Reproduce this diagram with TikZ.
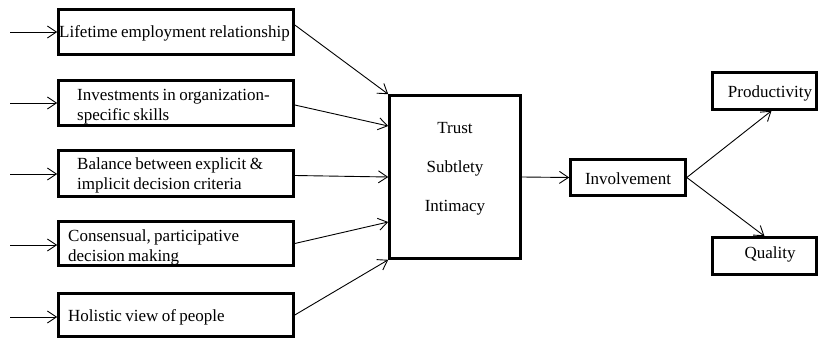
\documentclass[tikz,border=0pt]{standalone}
\usepackage{fontspec}
\setmainfont{Liberation Serif}
\usetikzlibrary{arrows.meta}
\newcommand{\lblfont}{\fontsize{17}{20}\selectfont\spaceskip=0.2em plus 0.1em\relax}
\begin{document}
\begin{tikzpicture}[x=1pt,y=-1pt,
  box/.style={draw, line width=2.6pt, inner sep=0pt},
  lbl/.style={font=\lblfont, inner sep=0pt, align=left},
  clbl/.style={font=\fontsize{17}{20}\selectfont, inner sep=0pt, align=center},
  arr/.style={-{Straight Barb[length=9pt,width=12pt]}, line width=0.9pt}]
\useasboundingbox (0,0) rectangle (819,339);
% left boxes
\node[box, minimum width=235pt, minimum height=45pt] (b1) at (176,32) {};
\node[box, minimum width=235pt, minimum height=45pt] (b2) at (176,103) {};
\node[box, minimum width=235pt, minimum height=46pt] (b3) at (176,173.5) {};
\node[box, minimum width=235pt, minimum height=44pt] (b4) at (176,243.5) {};
\node[box, minimum width=235pt, minimum height=43pt] (b5) at (176,315) {};
\node[lbl, anchor=west] (t1) at (59,33) {Lifetime employment relationship};
\node[lbl, anchor=west] (t2) at (77,107) {Investments in organization-\\specific skills};
\node[lbl, anchor=west] (t3) at (77,175) {Balance between explicit \&\\implicit decision criteria};
\node[lbl, anchor=west] (t4) at (68,247) {Consensual, participative\\decision making};
\node[lbl, anchor=west] (t5) at (68,317) {Holistic view of people};
% input free ends
\coordinate (s1) at (10,32);
\coordinate (s2) at (10,103);
\coordinate (s3) at (10,174);
\coordinate (s4) at (10,245);
\coordinate (s5) at (10,317);
\draw[arr] (s1) -- (s1 -| b1.west);
\draw[arr] (s2) -- (s2 -| b2.west);
\draw[arr] (s3) -- (s3 -| b3.west);
\draw[arr] (s4) -- (s4 -| b4.west);
\draw[arr] (s5) -- (s5 -| b5.west);
% center box
\node[box, minimum width=131pt, minimum height=163pt] (c) at (455,177) {};
\node[clbl] (ct1) at (455,128) {Trust};
\node[clbl] (ct2) at (455,168) {Subtlety};
\node[clbl] (ct3) at (455,208) {Intimacy};
\draw[arr] ([yshift=7pt]b1.east) -- (c.north west);
\draw[arr] ([yshift=-2pt]b2.east) -- ([yshift=51pt]c.west);
\draw[arr] ([yshift=-2pt]b3.east) -- (c.west);
\draw[arr] (b4.east) -- ([yshift=-45pt]c.west);
\draw[arr] (b5.east) -- (c.south west);
% right side
\node[box, minimum width=115pt, minimum height=36pt] (inv) at (628,177.5) {};
\node[clbl] (tinv) at (628,179) {Involvement};
\node[box, minimum width=104pt, minimum height=37pt] (prod) at (764.5,91) {};
\node[clbl] (tprod) at (770,93) {Productivity};
\node[box, minimum width=104pt, minimum height=37pt] (qual) at (764.5,256) {};
\node[clbl] (tqual) at (770,254) {Quality};
\draw[arr] (c.east) -- (inv.west);
\draw[arr] (inv.east) -- ([xshift=7pt]prod.south);
\draw[arr] (inv.east) -- (qual.north);
\end{tikzpicture}
\end{document}
